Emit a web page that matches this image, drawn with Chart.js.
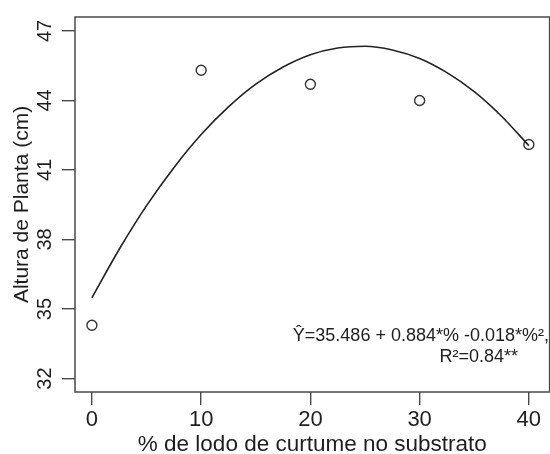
<!DOCTYPE html>
<html>
<head>
<meta charset="utf-8">
<script src="https://cdn.jsdelivr.net/npm/chart.js@4/dist/chart.umd.min.js"></script>
<style>
  html, body { margin: 0; padding: 0; background: #fff; overflow: hidden; }
  #wrap { width: 550px; height: 454px; overflow: hidden; }
</style>
</head>
<body>
<div id="wrap"><canvas id="grafico" width="556" height="454"></canvas></div>
<script>
// Dados observados (% de lodo x altura)
const doses = [0, 10, 20, 30, 40];
const alturas = [34.3, 45.3, 44.7, 44.0, 42.1];

// Curva ajustada
const curvaX = [0, 2.5, 5, 7.5, 10, 12.5, 15, 17.5, 20, 22.5, 25, 27.5, 30, 32.5, 35, 37.5, 40];
const curvaY = [35.49, 37.58, 39.46, 41.10, 42.53, 43.72, 44.70, 45.44, 45.97, 46.26, 46.34, 46.18, 45.81, 45.20, 44.38, 43.32, 42.05];

// Ticks dos eixos
const ticksX = [0, 10, 20, 30, 40];
const ticksY = [32, 35, 38, 41, 44, 47];

const equacao = 'Ŷ=35.486 + 0.884*% -0.018*%²,';
const r2 = 'R²=0.84**';

const fonte = 'Arial, "Liberation Sans", sans-serif';
const corTexto = '#1e1e1e';
const corEixo = '#4a4a4a';

// Moldura do grafico + texto da equacao
const molduraPlugin = {
    id: 'moldura',
    afterDraw(chart) {
        const ctx = chart.ctx;
        const a = chart.chartArea;
        ctx.save();
        ctx.strokeStyle = corEixo;
        ctx.lineWidth = 1.5;
        ctx.strokeRect(a.left, a.top, a.right - a.left, a.bottom - a.top);

        ctx.fillStyle = corTexto;
        ctx.font = '18px ' + fonte;
        ctx.textBaseline = 'middle';
        ctx.textAlign = 'right';
        ctx.fillText(equacao, 549, 336);
        ctx.fillText(r2, 518, 357);
        ctx.restore();
    }
};

const pontos = doses.map((d, i) => ({ x: d, y: alturas[i] }));
const curva = curvaX.map((d, i) => ({ x: d, y: curvaY[i] }));

new Chart(document.getElementById('grafico'), {
    type: 'scatter',
    data: {
        datasets: [
            {
                label: 'Ajuste',
                data: curva,
                showLine: true,
                borderColor: '#222',
                borderWidth: 1.6,
                pointRadius: 0,
                cubicInterpolationMode: 'monotone',
                fill: false
            },
            {
                label: 'Observado',
                data: pontos,
                pointRadius: 5,
                pointBorderWidth: 1.4,
                pointBorderColor: '#333',
                pointBackgroundColor: 'rgba(255,255,255,0)'
            }
        ]
    },
    options: {
        responsive: false,
        animation: false,
        layout: { padding: { top: 14, right: 1, left: 0, bottom: 0 } },
        plugins: {
            legend: { display: false },
            tooltip: { enabled: false }
        },
        scales: {
            x: {
                type: 'linear',
                min: -1.55,
                max: 41.9,
                afterBuildTicks: s => { s.ticks = ticksX.map(v => ({ value: v })); },
                afterFit: s => { s.height = 62; },
                border: { display: false },
                grid: { drawOnChartArea: false, drawTicks: true, tickLength: 13, color: corEixo, lineWidth: 1.4 },
                ticks: { padding: 2, color: corTexto, font: { family: fonte, size: 22 }, maxRotation: 0 },
                title: {
                    display: true,
                    text: '% de lodo de curtume no substrato',
                    color: corTexto,
                    font: { family: fonte, size: 22.5, lineHeight: 1 },
                    padding: { top: 0, bottom: -2 }
                }
            },
            y: {
                type: 'linear',
                min: 31.42,
                max: 47.6,
                afterBuildTicks: s => { s.ticks = ticksY.map(v => ({ value: v })); },
                afterFit: s => { s.width = 75; },
                border: { display: false },
                grid: { drawOnChartArea: false, drawTicks: true, tickLength: 13, color: corEixo, lineWidth: 1.4 },
                ticks: {
                    padding: 5,
                    minRotation: 90,
                    maxRotation: 90,
                    crossAlign: 'center',
                    color: corTexto,
                    font: { family: fonte, size: 20 }
                },
                title: {
                    display: true,
                    text: 'Altura de Planta (cm)',
                    color: corTexto,
                    font: { family: fonte, size: 21, lineHeight: 1 },
                    padding: { top: 12, bottom: 0 }
                }
            }
        }
    },
    plugins: [molduraPlugin]
});
</script>
</body>
</html>
